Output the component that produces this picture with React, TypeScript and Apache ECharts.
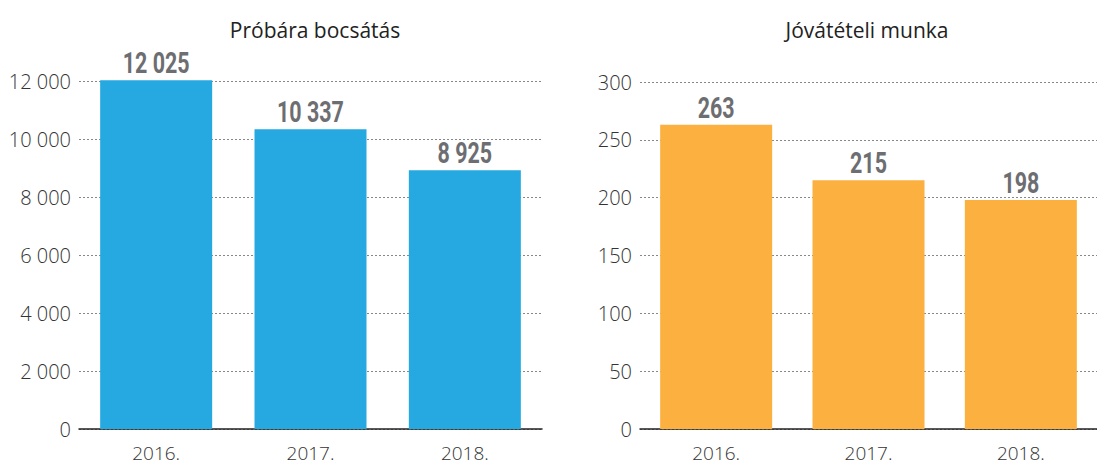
import React, { useEffect, useRef } from "react";
import * as echarts from "echarts";

const categories = ["2016.", "2017.", "2018."];
const probaraValues = [12025, 10337, 8925];
const jovateteliValues = [263, 215, 198];
const titles = ["Próbára bocsátás", "Jóvátételi munka"];

const fmt = (v: number) => String(v).replace(/\B(?=(\d{3})+(?!\d))/g, " ");

export default function App() {
  const ref = useRef<HTMLDivElement>(null);
  useEffect(() => {
    document.body.style.margin = "0";
    const chart = echarts.init(ref.current!, null, { renderer: "svg" });
    const axisFont = "'Open Sans', 'Noto Sans', sans-serif";
    const valueFont = "Roboto, 'Liberation Sans', sans-serif";
    const mkX = (gi: number) => ({
      type: "category",
      gridIndex: gi,
      data: categories,
      axisTick: { show: false },
      axisLine: { show: true, lineStyle: { color: "#222", width: 1.5 } },
      axisLabel: { color: "#333", fontSize: 19, fontFamily: axisFont, fontWeight: 300, margin: 14 },
    });
    const mkY = (gi: number, max: number, interval: number) => ({
      type: "value",
      gridIndex: gi,
      min: 0,
      max,
      interval,
      axisLine: { show: false },
      axisTick: { show: false },
      splitLine: { lineStyle: { color: "#888", type: [2, 2], width: 1 } },
      axisLabel: {
        color: "#333",
        fontSize: 20,
        fontFamily: axisFont,
        fontWeight: 300,
        margin: 8,
        formatter: (v: number) => fmt(v),
      },
    });
    const labelSeries = (gi: number, values: number[]) => ({
      type: "custom",
      xAxisIndex: gi,
      yAxisIndex: gi,
      data: values.map((v, i) => [i, v]),
      z: 5,
      silent: true,
      renderItem: (params: any, api: any) => {
        const pt = api.coord([api.value(0), api.value(1)]);
        return {
          type: "text",
          x: pt[0],
          y: pt[1] - 3,
          scaleX: 0.74,
          style: {
            text: fmt(api.value(1)),
            fill: "#6d6e71",
            fontSize: 29,
            fontWeight: "bold",
            fontFamily: valueFont,
            textAlign: "center",
            textVerticalAlign: "bottom",
          },
        };
      },
    });
    const titleStyle = { color: "#222", fontSize: 21, fontWeight: "normal", fontFamily: axisFont };
    chart.setOption({
      animation: false,
      title: [
        { text: titles[0], left: 310, top: 14, textAlign: "center", textStyle: titleStyle },
        { text: titles[1], left: 862, top: 14, textAlign: "center", textStyle: titleStyle },
      ],
      grid: [
        { left: 79, width: 463, top: 81, bottom: 35 },
        { left: 640, width: 465, top: 82, bottom: 35 },
      ],
      xAxis: [mkX(0), mkX(1)],
      yAxis: [mkY(0, 12000, 2000), mkY(1, 300, 50)],
      series: [
        {
          type: "bar", xAxisIndex: 0, yAxisIndex: 0, data: probaraValues,
          barWidth: 112, clip: false, itemStyle: { color: "#25a9e0" },
        },
        {
          type: "bar", xAxisIndex: 1, yAxisIndex: 1, data: jovateteliValues,
          barWidth: 112, clip: false, itemStyle: { color: "#fbb040" },
        },
        labelSeries(0, probaraValues),
        labelSeries(1, jovateteliValues),
      ],
    });
    return () => chart.dispose();
  }, []);
  return <div ref={ref} style={{ width: 1097, height: 464 }} />;
}
